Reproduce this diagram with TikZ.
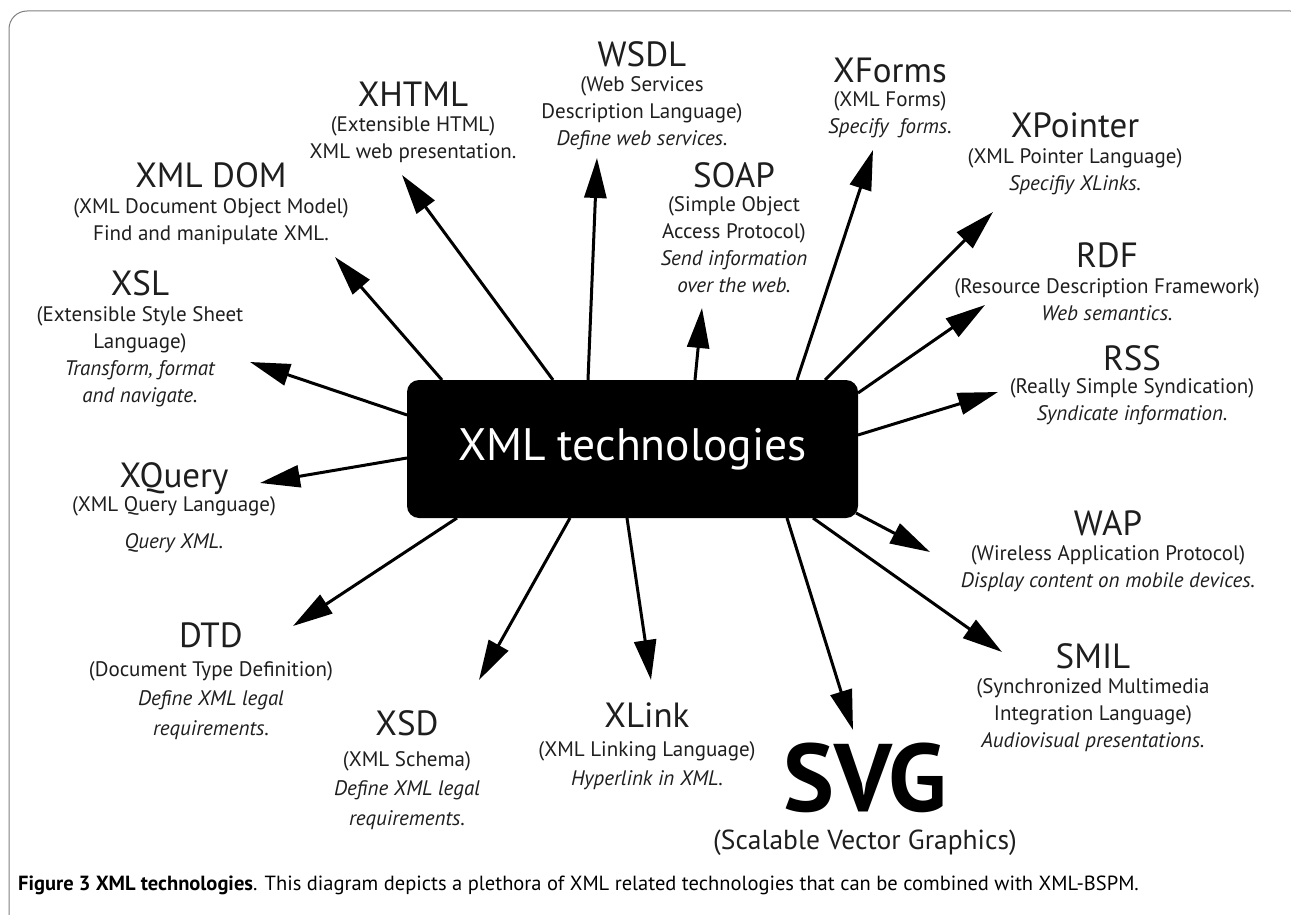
\documentclass[tikz,border=0pt]{standalone}
\usepackage{fontspec}
\setmainfont{PT Sans}
\usetikzlibrary{arrows.meta}
\definecolor{ink}{HTML}{1E1E1E}
\definecolor{framegray}{HTML}{808080}
\begin{document}
\begin{tikzpicture}[x=1pt,y=-1pt,
  ttl/.style={font=\fontsize{35}{38}\selectfont, anchor=base, inner sep=0pt, text=ink},
  dsc/.style={font=\fontsize{21}{27}\selectfont, anchor=north, yshift=17pt, align=center, inner sep=0pt, text=ink,
    execute at begin node={\rule{0pt}{17pt}}},
  dscwide/.style={dsc, font=\fontsize{21}{29.5}\selectfont},
  arr/.style={draw=black, line width=3pt, -{Triangle[length=40pt,width=22pt]}},
  centralbox/.style={fill=black, rounded corners=12pt, minimum width=451pt, minimum height=138pt,
    text=white, font=\fontsize{45.5}{50}\selectfont, inner sep=0pt}
]
\useasboundingbox (0,0) rectangle (1291,915);
\clip (0,0) rectangle (1291,915);
% frame
\draw[framegray, line width=1pt, rounded corners=18pt] (9,11) rectangle (1308,940);

% central node
\node[centralbox] (box) at (632.5,449) {XML technologies};

% labels
\node[ttl] (dom) at (211,188) {XML DOM};
\node[dsc] (dom-d) at (211,215) {(XML Document Object Model)\\Find and manipulate XML.};

\node[ttl] (xhtml) at (413,107) {XHTML};
\node[dsc] (xhtml-d) at (413,133) {(Extensible HTML)\\XML web presentation.};

\node[ttl] (wsdl) at (642,67) {WSDL};
\node[dsc] (wsdl-d) at (642,93) {(Web Services\\Description Language)\\\textit{Define web services.}};

\node[ttl] (soap) at (734,187) {SOAP};
\node[dsc] (soap-d) at (734,213) {(Simple Object\\Access Protocol)\\\textit{Send information}\\\textit{over the web.}};

\node[ttl] (xforms) at (890,83) {XForms};
\node[dsc] (xforms-d) at (890,108) {(XML Forms)\\\textit{Specify\ \ forms.}};

\node[ttl] (xpointer) at (1075,138) {XPointer};
\node[dsc] (xpointer-d) at (1075,165) {(XML Pointer Language)\\\textit{Specifiy XLinks.}};

\node[ttl] (rdf) at (1107,267) {RDF};
\node[dsc] (rdf-d) at (1107,295) {(Resource Description Framework)\\\textit{Web semantics.}};

\node[ttl] (rss) at (1132,370) {RSS};
\node[dsc] (rss-d) at (1132,395) {(Really Simple Syndication)\\\textit{Syndicate information.}};

\node[ttl] (wap) at (1108,535) {WAP};
\node[dsc] (wap-d) at (1108,562) {(Wireless Application Protocol)\\\textit{Display content on mobile devices.}};

\node[ttl] (smil) at (1093,668) {SMIL};
\node[dsc] (smil-d) at (1093,695) {(Synchronized Multimedia\\Integration Language)\\\textit{Audiovisual presentations.}};

\node[anchor=base, inner sep=0pt, text=black, font=\fontsize{96}{100}\selectfont\bfseries] (svg) at (865,811) {SVG};
\node[anchor=base, inner sep=0pt, text=ink, font=\fontsize{27.5}{30}\selectfont] (svg-d) at (865,849) {(Scalable Vector Graphics)};

\node[ttl] (xlink) at (647,727) {XLink};
\node[dscwide] (xlink-d) at (647,758) {(XML Linking Language)\\\textit{Hyperlink in XML.}};

\node[ttl] (xsd) at (407,735) {XSD};
\node[dscwide] (xsd-d) at (407,768) {(XML Schema)\\\textit{Define XML legal}\\\textit{requirements.}};

\node[ttl] (dtd) at (211,647) {DTD};
\node[dscwide] (dtd-d) at (211,678) {(Document Type Definition)\\\textit{Define XML legal}\\\textit{requirements.}};

\node[ttl] (xquery) at (174,487) {XQuery};
\node[dsc] (xquery-d) at (174,513) {(XML Query Language)\\[10pt]\textit{Query XML.}};

\node[ttl] (xsl) at (140,295) {XSL};
\node[dsc] (xsl-d) at (140,323) {(Extensible Style Sheet\\Language)\\\textit{Transform, format}\\\textit{and navigate.}};

% arrow start points on the central box and tips near the labels
\coordinate (s-dom) at (442,380);      \coordinate (t-dom) at (335,257);
\coordinate (s-xhtml) at (553,380);    \coordinate (t-xhtml) at (402,175);
\coordinate (s-wsdl) at (588,380);     \coordinate (t-wsdl) at (597,158);
\coordinate (s-soap) at (695,380);     \coordinate (t-soap) at (702,308);
\coordinate (s-xforms) at (797,380);   \coordinate (t-xforms) at (873,150);
\coordinate (s-xpointer) at (825,380); \coordinate (t-xpointer) at (993,212);
\coordinate (s-rdf) at (858,393);      \coordinate (t-rdf) at (985,305);
\coordinate (s-rss) at (858,435);      \coordinate (t-rss) at (998,392);
\coordinate (s-wap) at (856,513);      \coordinate (t-wap) at (930,552);
\coordinate (s-smil) at (813,518);     \coordinate (t-smil) at (1002,652);
\coordinate (s-svg) at (787,518);      \coordinate (t-svg) at (853,730);
\coordinate (s-xlink) at (627,518);    \coordinate (t-xlink) at (651,680);
\coordinate (s-xsd) at (570,518);      \coordinate (t-xsd) at (479,680);
\coordinate (s-dtd) at (457,518);      \coordinate (t-dtd) at (293,626);
\coordinate (s-xquery) at (407,458);   \coordinate (t-xquery) at (260,483);
\coordinate (s-xsl) at (407,415);      \coordinate (t-xsl) at (250,362);

\foreach \n in {dom,xhtml,wsdl,soap,xforms,xpointer,rdf,rss,wap,smil,svg,xlink,xsd,dtd,xquery,xsl}
  \draw[arr] (s-\n) -- (t-\n);

% caption
\node[anchor=base west, inner sep=0pt, text=black, font=\fontsize{20.5}{24}\selectfont] (caption) at (18,890)
  {\textbf{Figure 3 XML technologies}. This diagram depicts a plethora of XML related technologies that can be combined with XML-BSPM.};
\end{tikzpicture}
\end{document}
